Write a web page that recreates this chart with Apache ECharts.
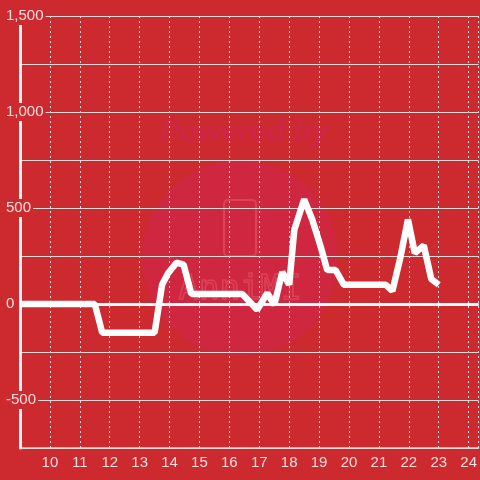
<!DOCTYPE html>
<html>
<head>
<meta charset="utf-8">
<script src="https://cdn.jsdelivr.net/npm/echarts@6/dist/echarts.min.js"></script>
<style>
  html, body { margin: 0; padding: 0; background: #cc2a2f; }
  #chart { width: 480px; height: 480px; }
</style>
</head>
<body>
<div id="chart"></div>
<script>
// time of day (hours) and value
var hours = [9, 11.5, 11.75, 13.5, 13.75, 13.95, 14.23, 14.47, 14.73, 16.43, 16.93, 17.27, 17.5, 17.77, 18.0,
    18.17, 18.5, 18.77, 19.05, 19.27, 19.55, 19.83, 21.23, 21.45, 21.7, 21.97, 22.2, 22.5, 22.75, 23.0];
var values = [0, 0, -150, -150, 100, 160, 215, 205, 52, 52, -30, 57, -5, 167, 100,
    385, 545, 440, 300, 177, 177, 100, 100, 68, 230, 440, 265, 305, 130, 100];
var yLabelStep = 500;

var bg = '#cc2a2f';
var txt = '#f6dede';

var chart = echarts.init(document.getElementById('chart'));

var seriesData = hours.map(function (h, i) {
    return [h, values[i]];
});

chart.setOption({
    backgroundColor: bg,
    animation: false,
    textStyle: {fontFamily: 'Liberation Sans'},
    grid: {left: 20, right: 0, top: 16, bottom: 32},
    graphic: [
        {type: 'circle', shape: {cx: 240, cy: 258, r: 98}, style: {fill: 'rgba(215,30,110,0.25)'}, z: -1},
        {type: 'text', x: 244, y: 133, style: {text: 'Powered by', fill: 'rgba(215,30,110,0.35)', font: 'italic bold 30px Liberation Sans', align: 'center', verticalAlign: 'middle'}, z: -1},
        {type: 'rect', shape: {x: 224, y: 200, width: 32, height: 56, r: 4}, style: {fill: 'none', stroke: 'rgba(240,120,140,0.35)', lineWidth: 2}, z: -1},
        {type: 'text', x: 240, y: 290, style: {text: 'AnniMI', fill: 'none', stroke: 'rgba(240,120,140,0.35)', lineWidth: 1.5, font: '34px DejaVu Sans Mono', align: 'center', verticalAlign: 'middle'}, z: -1}
    ],
    xAxis: {
        type: 'value',
        min: 9,
        max: 24.333,
        interval: 1,
        axisLine: {onZero: false, lineStyle: {color: '#d9d9d9', width: 1.5}},
        axisTick: {show: false},
        axisLabel: {color: txt, fontSize: 15, margin: 7, showMinLabel: false, showMaxLabel: false},
        splitLine: {show: true, lineStyle: {color: '#e0e0e0', type: [2, 3], width: 1}}
    },
    yAxis: {
        type: 'value',
        min: -750,
        max: 1500,
        interval: 250,
        z: 4,
        axisLine: {show: true, lineStyle: {color: '#f4f4f4', width: 3}},
        axisTick: {show: false},
        axisLabel: {
            margin: 16,
            align: 'left',
            verticalAlign: 'middle',
            color: txt,
            fontSize: 15,
            backgroundColor: bg,
            padding: [3, 2, 0, 2],
            formatter: function (v) {
                if (v % yLabelStep !== 0 || v === -750) return '';
                return v.toLocaleString('en-US');
            }
        },
        splitLine: {lineStyle: {color: '#d9d9d9', width: 1}}
    },
    series: [{
        type: 'line',
        data: seriesData,
        showSymbol: false,
        lineStyle: {color: '#ffffff', width: 6.5},
        z: 5,
        markLine: {
            silent: true,
            symbol: 'none',
            label: {show: false},
            lineStyle: {color: '#ffffff', width: 3, type: 'solid'},
            data: [{yAxis: 0}]
        }
    }]
});
</script>
</body>
</html>
